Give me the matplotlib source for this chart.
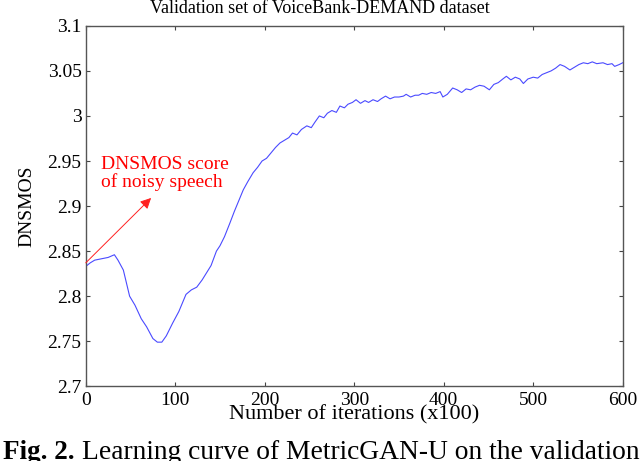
import matplotlib
matplotlib.use("Agg")
import matplotlib.pyplot as plt

# values (iterations in units of 100)
iterations = [0, 5, 10, 15, 20, 25, 32, 36, 42, 49, 55, 62, 68, 75, 80, 85, 90, 97,
              104, 112, 118, 124, 130, 135, 140, 146, 150, 155, 161, 166, 171, 176,
              181, 187, 192, 197, 202, 207, 212, 217, 222, 227, 231, 236, 241, 247,
              252, 256, 261, 266, 270, 275, 280, 284, 289, 293, 298, 302, 307, 312,
              316, 321, 326, 330, 335, 340, 345, 350, 355, 358, 363, 368, 372, 376,
              381, 386, 391, 396, 399, 404, 410, 415, 420, 425, 430, 435, 440, 445,
              451, 456, 461, 466, 470, 475, 480, 485, 489, 494, 500, 505, 510, 515,
              520, 525, 530, 535, 541, 546, 551, 556, 561, 566, 571, 578, 583, 588,
              591, 596, 600]
dnsmos = [2.833, 2.837, 2.840, 2.841, 2.842, 2.843, 2.846, 2.840, 2.829, 2.800, 2.790,
          2.775, 2.766, 2.753, 2.749, 2.749, 2.756, 2.770, 2.783, 2.802, 2.807, 2.810,
          2.818, 2.826, 2.834, 2.850, 2.856, 2.866, 2.881, 2.894, 2.906, 2.918, 2.927,
          2.937, 2.943, 2.950, 2.953, 2.959, 2.965, 2.970, 2.973, 2.976, 2.981, 2.979,
          2.985, 2.989, 2.987, 2.993, 3.000, 2.998, 3.003, 3.006, 3.004, 3.011, 3.009,
          3.013, 3.015, 3.018, 3.014, 3.017, 3.015, 3.018, 3.016, 3.019, 3.022, 3.019,
          3.021, 3.021, 3.022, 3.024, 3.021, 3.023, 3.023, 3.025, 3.024, 3.026, 3.025,
          3.027, 3.021, 3.024, 3.031, 3.029, 3.026, 3.030, 3.029, 3.032, 3.034, 3.033,
          3.029, 3.035, 3.037, 3.041, 3.044, 3.040, 3.043, 3.041, 3.036, 3.041, 3.043,
          3.042, 3.046, 3.048, 3.050, 3.053, 3.057, 3.055, 3.051, 3.054, 3.057, 3.059,
          3.058, 3.060, 3.058, 3.059, 3.057, 3.058, 3.055, 3.057, 3.059]

xticks = [0, 100, 200, 300, 400, 500, 600]
yticks = [2.7, 2.75, 2.8, 2.85, 2.9, 2.95, 3.0, 3.05, 3.1]
ytick_labels = ["2.7", "2.75", "2.8", "2.85", "2.9", "2.95", "3", "3.05", "3.1"]
noisy_score = 2.837

plt.rcParams["font.family"] = ["Liberation Serif", "DejaVu Serif"]

fig = plt.figure(figsize=(6.4, 4.61), dpi=100)
ax = fig.add_axes([0.134, 0.162, 0.839, 0.782])

ax.plot(iterations, dnsmos, color="#4a4aff", linewidth=0.8)

# arrow from the noisy-speech score towards the label
ax.annotate("", xy=(73, 2.909), xytext=(0, noisy_score),
            arrowprops=dict(arrowstyle="-|>", color="#ff2020", lw=0.7,
                            mutation_scale=16, shrinkA=0, shrinkB=0))
ax.text(17, 2.956, "DNSMOS score\nof noisy speech", color="red", fontsize=14,
        ha="left", va="top", linespacing=1.05)

ax.set_xlim(0, 600)
ax.set_ylim(2.7, 3.1)
ax.set_xticks(xticks)
ax.set_yticks(yticks)
ax.set_yticklabels(ytick_labels)
ax.tick_params(direction="in", top=True, right=True, labelsize=14, length=3,
               color="#444444")
ax.tick_params(axis="x", pad=4)
ax.tick_params(axis="y", pad=3)
for s in ax.spines.values():
    s.set_color("#555555")
    s.set_linewidth(1.0)

ax.set_xlabel("Number of iterations (x100)", fontsize=16, labelpad=-3)
ax.set_ylabel("DNSMOS", fontsize=14, labelpad=9)
ax.set_title("Validation set of VoiceBank-DEMAND dataset", fontsize=13, pad=9, x=0.436)

fig.text(0.005, 0.004, "Fig. 2.", fontsize=19.5, fontweight="bold", ha="left", va="baseline")
fig.text(0.128, 0.004, "Learning curve of MetricGAN-U on the validation", fontsize=19.8,
         ha="left", va="baseline")

fig.savefig("out.png", dpi=100)
